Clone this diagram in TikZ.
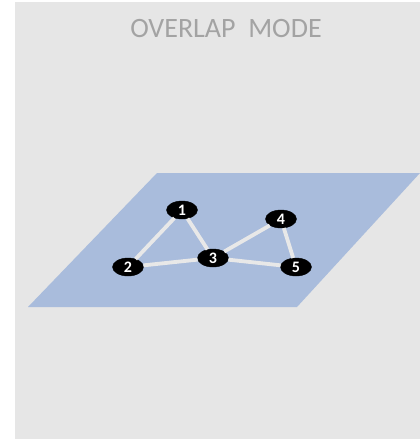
\documentclass[tikz,border=0pt]{standalone}
\usepackage{fontspec}
\setmainfont{Carlito}
\usetikzlibrary{shapes.geometric}
\definecolor{panelgray}{HTML}{E6E6E6}
\definecolor{planeblue}{HTML}{A9BCDC}
\definecolor{titlegray}{HTML}{A3A3A3}
\definecolor{edgegray}{HTML}{E8E8E8}
\begin{document}
\begin{tikzpicture}[x=1pt,y=-1pt,
  vert/.style={ellipse,fill=black,draw=black,minimum width=31pt,minimum height=18pt,inner sep=0pt,text=white,font=\bfseries\fontsize{16}{16}\selectfont},
  link/.style={edgegray,line width=3.8pt}]
\useasboundingbox (0,0) rectangle (420,439);
\fill[white] (0,0) rectangle (420,439);
\fill[panelgray] (15,2) rectangle (420,439);
\node[text=titlegray,font=\fontsize{28}{28}\selectfont] (title) at (226,29) {OVERLAP\ \ MODE};
\fill[planeblue] (157,173) -- (420,173) -- (297,307) -- (28,307) -- cycle;
\node[vert] (n1) at (182,210) {1};
\node[vert] (n2) at (128,267) {2};
\node[vert] (n3) at (213,258) {3};
\node[vert] (n4) at (281,219) {4};
\node[vert] (n5) at (296,267) {5};
\draw[link] (n1) -- (n2);
\draw[link] (n1) -- (n3);
\draw[link] (n2) -- (n3);
\draw[link] (n3) -- (n4);
\draw[link] (n3) -- (n5);
\draw[link] (n4) -- (n5);
\end{tikzpicture}
\end{document}
